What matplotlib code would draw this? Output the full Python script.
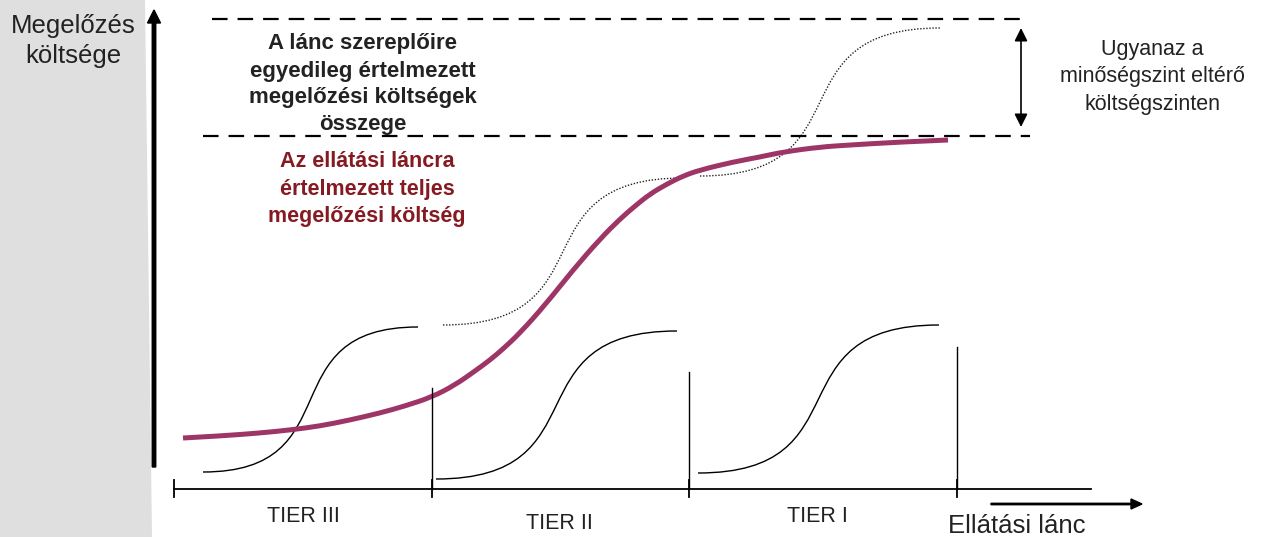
import matplotlib.pyplot as plt
from matplotlib.path import Path
from matplotlib.patches import PathPatch, Polygon

plt.rcParams['font.family'] = ['Liberation Sans', 'DejaVu Sans']

# tiers along the chain (pixel-like units, y grows downward)
tier_names = ['TIER III', 'TIER II', 'TIER I']
tier_label_x = [303, 559, 817]
tier_label_base = [522, 529, 522]
tier_ticks = [174, 432, 689, 957]
divider_tops = [388, 372, 347]

# individual tier cost curves: start (x, y) and end (x, y)
tier_start = [(203, 472), (436, 479), (698, 473)]
tier_end = [(418, 327), (677, 331), (939, 325)]

# stacked (summed) tier curves, dotted
stack_start = [(443, 325), (700, 176)]
stack_end = [(683, 178), (940, 28)]

# whole-chain prevention cost curve
chain_x = [183, 220, 260, 290, 320, 350, 380, 405, 432, 455, 475, 490, 503, 520,
           545, 573, 600, 620, 635, 650, 667, 683, 700, 733, 760, 783, 820, 850,
           900, 948]
chain_y = [438, 436, 433, 430, 426, 420, 413, 406, 397, 385, 371, 360, 349, 333,
           305, 270, 239, 219, 206, 194, 184, 176, 170, 162, 157, 152, 147, 145,
           142, 140]

level_top = 19
level_bottom = 136


def s_curve(ax, p0, p1, k=0.7, **kw):
    w = p1[0] - p0[0]
    verts = [p0, (p0[0] + k * w, p0[1]), (p1[0] - k * w, p1[1]), p1]
    codes = [Path.MOVETO, Path.CURVE4, Path.CURVE4, Path.CURVE4]
    ax.add_patch(PathPatch(Path(verts, codes), facecolor='none', **kw))


def smooth_path(xs, ys):
    # read points act as quadratic control points, curve runs through midpoints
    pts = list(zip(xs, ys))
    verts = [pts[0]]
    codes = [Path.MOVETO]
    for i in range(1, len(pts) - 1):
        mid = ((pts[i][0] + pts[i + 1][0]) / 2, (pts[i][1] + pts[i + 1][1]) / 2)
        if i == len(pts) - 2:
            mid = pts[-1]
        verts += [pts[i], mid]
        codes += [Path.CURVE3, Path.CURVE3]
    return Path(verts, codes)


fig = plt.figure(figsize=(12.63, 5.37), dpi=100)
ax = fig.add_axes([0, 0, 1, 1])
ax.set_xlim(0, 1263)
ax.set_ylim(537, 0)
ax.axis('off')

# grey band on the left
ax.add_patch(Polygon([(0, 0), (145, 0), (152, 537), (0, 537)], closed=True,
                     facecolor='#dfdfdf', edgecolor='none'))

# y axis arrow
ax.arrow(154, 467, 0, -457, width=3.5, head_width=13, head_length=13,
         length_includes_head=True, color='black')

# x axis with tier ticks
ax.plot([174, 1091], [489, 489], color='black', lw=1.3)
for x in tier_ticks:
    ax.plot([x, x], [480, 497], color='black', lw=1.3)
for x, top in zip(tier_ticks[1:], divider_tops):
    ax.plot([x, x], [top, 489], color='black', lw=1.0)

ax.arrow(991, 504, 151, 0, width=1.4, head_width=10, head_length=11,
         length_includes_head=True, color='black')

# dashed cost levels
ax.plot([212, 1022], [level_top, level_top], color='black', lw=1.6,
        linestyle=(0, (7, 4.5)))
ax.plot([203, 1030], [level_bottom, level_bottom], color='black', lw=1.6,
        linestyle=(0, (7, 4.5)))
ax.annotate('', xy=(1021, 28), xytext=(1021, 127),
            arrowprops=dict(arrowstyle='<|-|>,head_length=0.6,head_width=0.3',
                            color='black', lw=1.2, mutation_scale=13,
                            shrinkA=0, shrinkB=0))

# curves
for p0, p1 in zip(tier_start, tier_end):
    s_curve(ax, p0, p1, edgecolor='black', lw=1.0)
for p0, p1 in zip(stack_start, stack_end):
    s_curve(ax, p0, p1, edgecolor='#222222', lw=1.0, linestyle=(0, (1, 1.2)))

ax.add_patch(PathPatch(smooth_path(chain_x, chain_y), facecolor='none',
                       edgecolor='#9e3567', lw=3.6, capstyle='butt'))

# texts
def lines(x, bases, texts, **kw):
    for b, t in zip(bases, texts):
        ax.text(x, b, t, ha='center', va='baseline', **kw)


lines(73.5, [33, 63], ['Megelőzés', 'költsége'], fontsize=18.5, color='#222222')
lines(363, [49, 77, 103, 130],
      ['A lánc szereplőire', 'egyedileg értelmezett',
       'megelőzési költségek', 'összege'],
      fontsize=16, fontweight='bold', color='#222222')
lines(367, [167, 195, 222],
      ['Az ellátási láncra', 'értelmezett teljes', 'megelőzési költség'],
      fontsize=15.5, fontweight='bold', color='#861a22')
lines(1152, [55, 82, 110],
      ['Ugyanaz a', 'minőségszint eltérő', 'költségszinten'],
      fontsize=15.5, color='#222222')
for name, x, b in zip(tier_names, tier_label_x, tier_label_base):
    ax.text(x, b, name, ha='center', va='baseline', fontsize=15.5, color='#222222')
ax.text(1017, 533, 'Ellátási lánc', ha='center', va='baseline', fontsize=18.5,
        color='#222222')

fig.savefig('out.png', dpi=100)
